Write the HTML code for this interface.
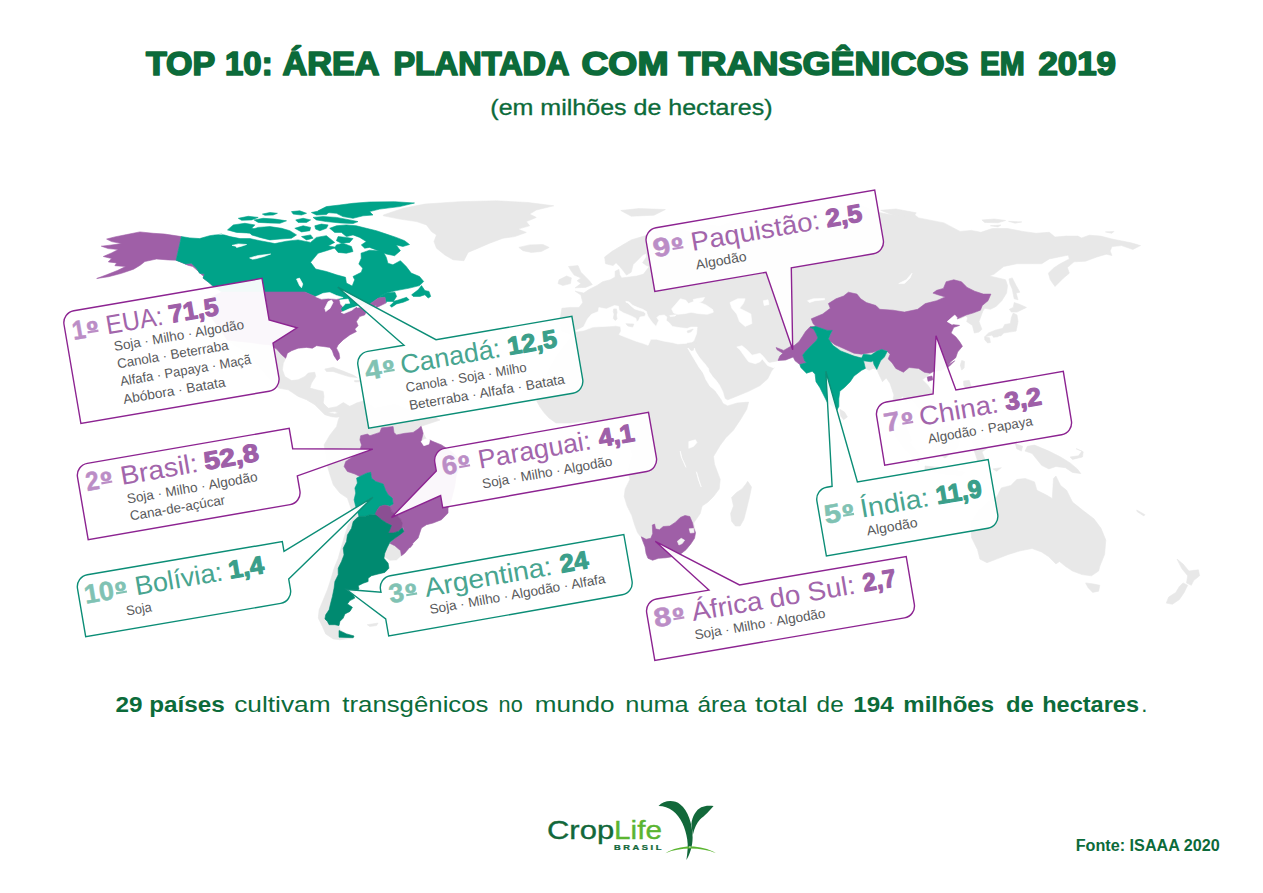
<!DOCTYPE html><html><head><meta charset="utf-8"><title>Top 10</title><style>html,body{margin:0;padding:0;background:#fff}svg{display:block}text{font-family:"Liberation Sans",sans-serif}</style></head><body>
<svg width="1263" height="893" viewBox="0 0 1263 893">
<rect width="1263" height="893" fill="#fff"/>
<g stroke-linejoin="round">
<path d="M383.3,215.0 L403.3,208.3 L424.9,204.1 L459.8,201.7 L496.4,200.8 L528.0,202.5 L553.7,205.8 L536.3,210.0 L529.6,214.1 L536.3,217.4 L526.3,221.6 L529.6,225.8 L518.0,229.1 L526.3,232.4 L514.7,236.6 L503.0,238.2 L489.7,243.2 L478.1,248.2 L468.1,252.4 L463.9,260.7 L453.1,259.8 L444.8,254.9 L436.5,248.2 L434.0,241.6 L436.5,234.9 L431.5,231.6 L426.5,224.9 L416.6,221.6 L399.9,219.1 L383.3,215.8Z" fill="#e8e8e8" stroke="#e8e8e8" stroke-width="0.6"/>
<path d="M518.8,247.4 L529.6,244.9 L542.9,244.5 L549.2,247.4 L541.3,251.5 L531.3,252.4 L523.0,250.7Z" fill="#e8e8e8" stroke="#e8e8e8" stroke-width="0.6"/>
<path d="M227.1,339.9 L240.0,341.5 L250.0,342.4 L260.0,344.0 L270.0,344.9 L276.6,349.0 L281.6,354.8 L285.7,358.2 L283.3,363.2 L282.4,369.8 L284.9,376.5 L291.6,380.6 L298.2,379.8 L304.9,376.5 L308.2,373.1 L314.8,372.3 L315.7,376.5 L311.5,383.1 L309.9,388.1 L316.5,389.8 L323.2,391.4 L324.0,396.4 L323.2,403.1 L325.7,409.7 L329.8,413.0 L334.8,413.9 L339.8,412.2 L343.1,409.7 L349.8,406.4 L356.4,404.7 L358.1,409.7 L349.8,412.2 L343.1,416.4 L336.5,417.2 L331.5,416.7 L324.8,414.7 L319.8,409.7 L314.8,404.7 L306.5,399.7 L298.2,396.4 L288.2,389.8 L278.3,388.1 L270.0,379.8 L260.0,368.1 L250.0,356.5 L240.0,348.2 L233.4,344.9Z" fill="#e8e8e8" stroke="#e8e8e8" stroke-width="0.6"/>
<path d="M324.8,369.0 L333.1,367.3 L343.1,371.1 L353.1,375.1 L357.2,377.6 L349.8,376.8 L341.4,374.3 L333.1,371.5 L326.5,371.5Z" fill="#e8e8e8" stroke="#e8e8e8" stroke-width="0.6"/>
<path d="M354.4,380.6 L360.6,380.5 L361.1,381.8 L354.8,381.9Z" fill="#e8e8e8" stroke="#e8e8e8" stroke-width="0.6"/>
<path d="M349.8,406.4 L356.4,403.1 L364.7,400.6 L375.0,408.0 L395.0,404.0 L410.0,410.0 L425.0,412.0 L440.0,420.0 L421.1,426.3 L423.1,433.3 L426.4,439.1 L433.0,441.6 L441.4,444.9 L451.3,451.5 L458.0,458.2 L459.6,466.5 L456.3,474.8 L454.7,486.5 L451.3,499.8 L448.0,508.1 L448.0,513.1 L441.4,519.7 L433.0,523.0 L426.4,524.7 L421.4,528.0 L419.7,533.0 L418.1,538.0 L413.1,543.0 L409.8,547.8 L413.0,544.1 L408.9,548.2 L404.7,553.2 L401.4,555.7 L399.7,556.9 L396.4,559.9 L389.8,560.2 L384.8,556.9 L383.9,558.2 L388.1,563.2 L388.9,568.2 L384.8,572.4 L378.1,574.0 L371.5,575.7 L368.1,578.2 L368.1,581.5 L363.2,583.2 L358.2,585.7 L359.0,589.0 L355.7,591.5 L353.2,594.8 L354.8,598.1 L349.9,600.6 L347.4,603.9 L352.4,607.3 L349.9,611.4 L344.9,613.9 L343.2,618.1 L339.9,621.4 L339.0,625.6 L339.9,629.7 L346.5,633.9 L354.0,636.0 L353.2,638.0 L339.9,639.7 L333.2,638.9 L325.7,633.9 L322.4,626.4 L318.3,618.1 L319.1,609.8 L323.3,599.8 L327.4,589.8 L330.7,579.8 L334.1,568.2 L338.2,558.2 L341.5,546.6 L344.9,534.9 L348.2,525.0 L354.0,516.7 L347.4,498.1 L339.9,493.1 L333.3,484.8 L330.0,474.8 L327.5,466.5 L325.8,454.9 L324.1,444.9 L330.0,434.9 L336.6,426.6 L338.3,420.0 L340.8,414.1 L334.9,411.6 L325.0,412.5 L318.3,406.7 L315.0,400.0 L320.0,400.0 L328.3,408.3 L336.6,406.7 L343.3,402.5Z" fill="#e8e8e8" stroke="#e8e8e8" stroke-width="0.6"/>
<path d="M367.3,624.7 L378.1,623.1 L376.5,625.6 L369.8,626.4Z" fill="#e8e8e8" stroke="#e8e8e8" stroke-width="0.6"/>
<path d="M560.9,331.1 L560.0,321.6 L560.9,314.0 L561.9,308.3 L570.4,307.4 L579.0,307.4 L582.8,302.6 L580.9,295.0 L575.2,291.2 L583.7,293.1 L589.4,289.3 L597.0,285.5 L602.7,281.7 L610.3,279.8 L615.1,277.0 L615.1,271.3 L618.9,269.4 L619.8,275.1 L621.7,277.9 L629.3,277.0 L636.9,276.0 L643.6,274.1 L646.4,270.3 L649.3,266.5 L646.4,265.6 L642.6,262.7 L646.4,257.0 L646.4,253.2 L642.6,255.1 L638.8,258.9 L633.1,264.6 L631.2,272.2 L626.5,275.1 L623.6,271.3 L619.8,266.5 L616.0,262.7 L613.2,265.6 L605.6,263.7 L604.6,257.0 L612.2,251.3 L621.7,245.6 L631.2,239.9 L640.7,237.1 L650.2,234.2 L660.0,228.0 L672.0,226.0 L690.0,232.0 L700.0,224.0 L720.0,226.0 L740.0,218.0 L770.0,222.0 L800.0,214.0 L830.0,208.0 L860.0,205.0 L880.7,212.8 L893.4,215.3 L913.6,214.1 L918.7,217.9 L944.0,222.9 L960.0,231.4 L971.4,230.4 L980.9,232.3 L992.3,228.5 L1007.5,228.5 L1022.7,231.4 L1036.0,233.3 L1049.3,232.3 L1055.0,237.1 L1066.4,236.1 L1077.8,236.1 L1081.6,238.0 L1089.2,235.2 L1100.6,236.1 L1112.0,239.0 L1121.5,240.9 L1131.0,242.8 L1140.5,245.6 L1132.9,249.4 L1121.5,245.6 L1112.0,246.6 L1110.1,250.9 L1112.0,255.5 L1106.3,254.2 L1096.8,257.0 L1085.4,261.2 L1074.0,261.8 L1067.4,267.5 L1069.3,273.2 L1063.6,277.9 L1058.8,282.7 L1055.0,286.5 L1050.3,279.8 L1048.4,273.2 L1053.1,268.4 L1058.8,264.6 L1069.3,258.9 L1068.3,255.1 L1058.8,257.0 L1049.3,258.9 L1041.7,263.7 L1032.2,263.7 L1017.0,263.7 L1003.7,266.5 L994.2,274.1 L989.5,276.0 L998.0,277.9 L1005.6,279.8 L1007.5,285.5 L1006.6,293.1 L1001.8,300.7 L996.1,306.4 L990.4,309.3 L984.7,308.3 L982.8,311.2 L979.0,321.6 L981.9,329.2 L979.0,332.1 L974.3,333.0 L972.4,325.4 L966.7,321.6 L967.6,317.8 L965.7,315.9 L960.0,318.8 L957.6,318.8 L953.8,315.9 L947.2,321.6 L951.9,324.5 L959.5,325.4 L953.8,327.3 L951.0,333.0 L955.7,336.8 L959.5,341.6 L962.4,346.3 L957.6,352.0 L955.7,357.7 L951.0,361.5 L948.1,365.3 L954.7,360.8 L949.0,366.5 L941.4,370.3 L933.8,371.3 L930.0,374.1 L927.2,376.0 L922.4,379.8 L928.1,385.5 L931.9,391.2 L936.0,400.0 L930.0,412.0 L920.0,410.0 L912.0,400.0 L906.0,404.0 L903.0,396.0 L898.0,400.0 L900.0,412.0 L906.0,425.0 L912.0,440.0 L909.0,443.0 L901.0,432.0 L895.0,415.0 L893.0,400.0 L893.9,395.0 L892.0,389.3 L890.1,383.6 L886.3,377.9 L882.5,381.7 L879.7,376.0 L876.8,369.4 L873.0,368.4 L869.2,370.3 L865.4,368.4 L861.6,370.3 L857.8,373.2 L854.0,376.0 L850.2,381.7 L844.5,387.4 L839.8,391.2 L838.8,398.8 L838.8,406.4 L836.9,410.2 L833.1,406.4 L827.4,402.6 L823.6,395.0 L819.8,387.4 L816.0,381.7 L815.1,374.1 L812.2,371.3 L806.5,373.2 L800.8,367.5 L799.9,364.6 L795.1,360.8 L793.2,357.0 L785.6,359.9 L778.0,360.4 L786.6,359.9 L779.0,360.3 L777.1,360.9 L767.6,362.8 L762.9,357.1 L760.0,354.2 L751.5,356.1 L747.7,351.4 L742.0,346.6 L737.2,347.6 L740.1,348.5 L744.8,355.2 L748.6,360.9 L755.3,362.8 L760.0,360.9 L761.9,358.0 L767.6,364.7 L774.3,367.5 L771.4,371.3 L767.6,378.9 L760.0,385.6 L748.6,391.3 L737.2,396.0 L727.7,399.8 L724.3,397.9 L719.2,385.6 L711.6,374.2 L703.0,362.8 L694.5,348.5 L691.6,341.9 L650.0,352.0 L585.0,347.0 L574.0,336.0 L566.6,333.0Z" fill="#e8e8e8" stroke="#e8e8e8" stroke-width="0.6"/>
<path d="M568.5,266.5 L578.0,265.6 L580.9,272.2 L584.7,276.0 L589.4,280.8 L592.3,284.6 L585.6,287.4 L575.2,287.8 L580.9,283.6 L577.1,280.8 L580.9,277.9 L574.2,275.1 L571.4,271.3Z" fill="#e8e8e8" stroke="#e8e8e8" stroke-width="0.6"/>
<path d="M559.0,279.8 L566.6,276.0 L571.4,277.9 L570.4,283.6 L562.8,285.5 L558.1,283.6Z" fill="#e8e8e8" stroke="#e8e8e8" stroke-width="0.6"/>
<path d="M620.8,210.5 L638.8,208.6 L665.4,209.5 L654.0,215.2 L631.2,216.2Z" fill="#e8e8e8" stroke="#e8e8e8" stroke-width="0.6"/>
<path d="M880.7,210.3 L895.9,209.0 L916.2,212.8 L913.6,216.6 L893.4,215.3Z" fill="#e8e8e8" stroke="#e8e8e8" stroke-width="0.6"/>
<path d="M981.9,220.0 L994.2,219.0 L1005.6,220.5 L998.0,222.8 L984.7,222.4Z" fill="#e8e8e8" stroke="#e8e8e8" stroke-width="0.6"/>
<path d="M1008.5,221.3 L1021.8,221.9 L1015.1,223.2Z" fill="#e8e8e8" stroke="#e8e8e8" stroke-width="0.6"/>
<path d="M990.4,225.7 L1000.9,225.1 L998.0,227.0Z" fill="#e8e8e8" stroke="#e8e8e8" stroke-width="0.6"/>
<path d="M1105.4,231.9 L1113.9,231.4 L1112.0,233.3Z" fill="#e8e8e8" stroke="#e8e8e8" stroke-width="0.6"/>
<path d="M1009.0,278.9 L1012.3,277.9 L1016.1,285.5 L1019.9,292.2 L1016.1,293.1 L1018.0,299.8 L1014.2,298.8 L1012.3,289.3 L1009.8,283.6Z" fill="#e8e8e8" stroke="#e8e8e8" stroke-width="0.6"/>
<path d="M1014.2,302.6 L1018.9,304.1 L1026.5,307.4 L1020.8,310.2 L1017.0,312.1 L1011.3,312.1 L1009.4,309.3 L1013.2,307.4Z" fill="#e8e8e8" stroke="#e8e8e8" stroke-width="0.6"/>
<path d="M1013.2,313.1 L1017.0,315.0 L1018.0,321.6 L1016.1,331.1 L1009.4,332.1 L1003.7,333.0 L1000.9,335.9 L991.4,335.3 L984.7,336.8 L988.5,333.0 L995.2,330.2 L1002.8,328.3 L1004.7,324.5 L1010.4,323.5 L1011.3,317.8Z" fill="#e8e8e8" stroke="#e8e8e8" stroke-width="0.6"/>
<path d="M984.7,336.8 L989.5,337.8 L990.4,342.5 L987.6,342.9 L984.7,339.7Z" fill="#e8e8e8" stroke="#e8e8e8" stroke-width="0.6"/>
<path d="M992.3,334.9 L999.9,334.5 L998.0,336.8 L993.3,337.2Z" fill="#e8e8e8" stroke="#e8e8e8" stroke-width="0.6"/>
<path d="M961.7,360.4 L964.5,361.4 L964.1,368.0 L961.7,369.9 L960.3,365.2Z" fill="#e8e8e8" stroke="#e8e8e8" stroke-width="0.6"/>
<path d="M963.6,380.9 L969.3,380.4 L971.2,387.0 L966.4,388.9 L963.6,385.1Z" fill="#e8e8e8" stroke="#e8e8e8" stroke-width="0.6"/>
<path d="M839.8,409.3 L844.5,412.1 L847.4,416.9 L843.6,419.7 L840.7,415.9Z" fill="#e8e8e8" stroke="#e8e8e8" stroke-width="0.6"/>
<path d="M576.1,329.5 L592.9,324.4 L619.8,323.1 L623.8,333.8 L648.1,340.6 L656.1,336.5 L691.8,339.2 L691.6,341.9 L687.8,348.5 L691.6,354.2 L699.2,367.5 L706.8,378.9 L714.4,390.3 L721.1,399.8 L723.0,403.6 L727.7,405.9 L737.2,403.0 L748.6,402.1 L746.7,409.3 L741.0,418.8 L733.4,430.2 L725.8,437.8 L720.1,445.4 L714.4,454.9 L713.5,456.6 L714.5,464.2 L717.3,471.8 L720.2,479.4 L719.2,488.9 L713.5,496.5 L707.8,502.2 L702.1,506.0 L700.2,513.6 L693.6,523.1 L695.5,532.6 L694.5,538.3 L690.7,544.0 L686.0,549.7 L681.2,553.5 L673.6,556.4 L666.0,557.7 L658.4,558.3 L652.7,560.2 L648.0,558.3 L646.1,553.5 L645.1,546.9 L643.2,542.1 L641.3,537.4 L637.5,532.6 L634.7,525.0 L631.8,515.5 L627.1,506.0 L624.2,496.5 L625.2,488.9 L629.9,479.4 L628.0,470.0 L632.0,455.0 L628.0,440.0 L630.0,428.0 L628.0,421.0 L615.0,419.0 L600.0,422.0 L585.0,421.0 L570.0,423.0 L556.0,423.0 L549.0,418.0 L544.0,412.6 L540.0,407.0 L537.0,401.5 L537.0,395.0 L540.0,386.0 L545.0,378.0 L550.0,367.0 L557.0,355.0 L567.0,342.0 L575.0,334.0 L580.0,327.0Z" fill="#e8e8e8" stroke="#e8e8e8" stroke-width="0.6"/>
<path d="M747.7,481.3 L751.5,487.0 L749.6,496.5 L746.8,507.9 L743.9,519.3 L740.1,526.0 L735.4,526.0 L731.6,521.2 L730.6,513.6 L733.5,506.0 L731.6,497.5 L736.3,492.7 L742.0,488.9 L745.8,484.2Z" fill="#e8e8e8" stroke="#e8e8e8" stroke-width="0.6"/>
<path d="M996.5,497.4 L1001.3,487.9 L1010.8,485.5 L1016.7,479.6 L1025.0,478.4 L1034.5,481.9 L1036.9,490.3 L1046.4,495.0 L1052.3,498.6 L1053.5,478.4 L1055.9,476.0 L1060.6,485.5 L1066.6,490.3 L1072.5,502.1 L1084.4,511.6 L1093.9,518.8 L1101.0,528.3 L1105.8,540.1 L1104.6,554.4 L1099.8,566.3 L1098.6,571.0 L1091.5,575.8 L1082.0,574.6 L1072.5,571.0 L1065.4,566.3 L1059.5,561.5 L1055.9,563.9 L1048.8,556.8 L1041.6,552.0 L1032.1,548.5 L1020.3,550.8 L1008.4,554.4 L996.5,559.1 L987.0,562.7 L979.9,559.1 L977.5,549.6 L971.6,537.8 L970.4,523.5 L977.5,511.6 L987.0,502.1Z" fill="#e8e8e8" stroke="#e8e8e8" stroke-width="0.6"/>
<path d="M1085.6,582.9 L1093.9,584.1 L1099.8,585.3 L1098.6,591.2 L1092.7,592.4 L1088.0,587.6Z" fill="#e8e8e8" stroke="#e8e8e8" stroke-width="0.6"/>
<path d="M1027.4,446.3 L1034.5,445.1 L1048.8,451.1 L1060.6,457.0 L1070.1,462.9 L1077.3,468.9 L1080.8,473.6 L1072.5,472.4 L1065.4,467.7 L1055.9,466.5 L1048.8,468.9 L1041.6,465.3 L1036.9,459.4 L1032.1,453.4 L1025.0,451.1Z" fill="#e8e8e8" stroke="#e8e8e8" stroke-width="0.6"/>
<path d="M1070.1,457.0 L1078.5,455.8 L1082.0,451.1 L1076.1,448.7 L1083.2,451.8 L1082.5,457.0 L1072.5,459.4Z" fill="#e8e8e8" stroke="#e8e8e8" stroke-width="0.6"/>
<path d="M1177.0,559.1 L1183.0,563.9 L1188.9,571.0 L1198.4,569.8 L1199.6,575.8 L1193.7,580.5 L1191.3,585.3 L1186.5,582.9 L1187.7,575.8 L1181.8,568.6Z" fill="#e8e8e8" stroke="#e8e8e8" stroke-width="0.6"/>
<path d="M1183.0,582.9 L1187.7,585.3 L1184.2,592.4 L1179.4,599.5 L1172.3,604.3 L1166.3,603.1 L1168.7,597.1 L1175.8,592.4 L1179.4,586.5Z" fill="#e8e8e8" stroke="#e8e8e8" stroke-width="0.6"/>
<path d="M1136.7,510.0 L1145.0,514.7 L1143.8,515.9 L1137.1,511.6Z" fill="#e8e8e8" stroke="#e8e8e8" stroke-width="0.6"/>
<path d="M1015.5,443.9 L1022.6,446.3 L1021.4,451.1 L1016.7,448.7Z" fill="#e8e8e8" stroke="#e8e8e8" stroke-width="0.6"/>
<path d="M992.9,468.9 L1001.3,467.7 L996.5,471.3Z" fill="#e8e8e8" stroke="#e8e8e8" stroke-width="0.6"/>
<path d="M893.0,425.0 L900.0,428.0 L912.0,445.0 L922.0,458.0 L918.0,462.0 L905.0,450.0 L895.0,436.0Z" fill="#e8e8e8" stroke="#e8e8e8" stroke-width="0.6"/>
<path d="M935.0,430.0 L950.0,425.0 L962.0,432.0 L958.0,448.0 L945.0,458.0 L934.0,452.0 L930.0,440.0Z" fill="#e8e8e8" stroke="#e8e8e8" stroke-width="0.6"/>
<path d="M925.0,466.0 L945.0,468.0 L965.0,472.0 L962.0,476.0 L940.0,474.0 L925.0,470.0Z" fill="#e8e8e8" stroke="#e8e8e8" stroke-width="0.6"/>
<path d="M972.0,440.0 L985.0,438.0 L990.0,446.0 L982.0,452.0 L986.0,462.0 L978.0,462.0 L974.0,450.0Z" fill="#e8e8e8" stroke="#e8e8e8" stroke-width="0.6"/>
<path d="M730.0,302.6 L737.6,298.8 L745.2,298.8 L743.3,303.6 L739.5,308.3 L747.1,312.1 L750.9,314.0 L751.9,323.5 L745.2,326.4 L739.5,321.6 L736.7,314.0 L731.9,308.3Z" fill="#ffffff" stroke="#ffffff" stroke-width="0.6"/>
<path d="M763.3,300.7 L768.0,299.8 L769.0,304.5 L764.2,305.5Z" fill="#ffffff" stroke="#ffffff" stroke-width="0.6"/>
<path d="M898.7,283.6 L906.3,279.8 L912.0,273.2 L910.1,277.9 L904.4,283.6Z" fill="#ffffff" stroke="#ffffff" stroke-width="0.6"/>
<path d="M807.5,300.7 L813.2,298.8 L824.6,298.4 L824.6,299.8 L815.1,300.7 L809.4,302.6Z" fill="#ffffff" stroke="#ffffff" stroke-width="0.6"/>
<path d="M688.8,441.6 L695.4,439.7 L696.9,442.6 L693.5,446.4 L688.8,448.3Z" fill="#ffffff" stroke="#ffffff" stroke-width="0.6"/>
<path d="M680.2,451.1 L682.1,458.7 L685.9,467.3 L684.0,462.5 L681.2,456.8Z" fill="#ffffff" stroke="#ffffff" stroke-width="0.6"/>
<path d="M696.4,471.8 L698.3,479.4 L701.2,487.0 L699.3,481.3 L697.4,474.7Z" fill="#ffffff" stroke="#ffffff" stroke-width="0.6"/>
<path d="M576.1,330.5 L583.5,327.1 L587.5,319.0 L591.5,314.3 L598.3,311.6 L598.9,307.6 L606.3,308.9 L614.4,305.6 L618.5,306.2 L619.1,310.3 L623.8,313.0 L630.6,315.7 L636.0,318.4 L636.6,321.7 L638.6,320.4 L640.0,317.0 L644.7,316.3 L646.0,313.7 L647.4,315.3 L650.8,320.4 L652.8,323.1 L656.1,326.4 L657.5,323.1 L658.8,320.4 L656.8,317.7 L658.8,315.7 L664.2,315.0 L666.9,317.0 L666.2,320.4 L669.6,323.1 L672.3,326.4 L680.4,327.8 L687.1,328.5 L691.1,327.1 L697.2,327.1 L696.5,333.8 L693.8,340.6 L691.8,342.6 L687.1,343.3 L677.7,343.9 L672.3,342.6 L664.2,341.2 L656.1,339.2 L650.8,339.2 L648.1,345.3 L642.7,343.3 L636.0,341.2 L629.2,338.6 L623.8,336.5 L619.1,334.5 L621.1,331.1 L620.5,326.4 L615.8,325.8 L603.7,326.4 L592.9,327.1 L583.5,330.5 L576.1,331.4Z" fill="#ffffff" stroke="#ffffff" stroke-width="0.6"/>
<path d="M646.0,313.7 L643.4,311.6 L638.6,310.3 L634.6,308.9 L630.6,305.6 L627.9,302.9 L625.9,302.2 L625.9,301.3 L629.2,301.9 L632.6,305.3 L637.3,307.3 L642.7,309.3 L646.5,311.6 L647.4,315.3Z" fill="#ffffff" stroke="#ffffff" stroke-width="0.6"/>
<path d="M671.6,308.9 L676.3,303.6 L680.4,298.8 L685.8,300.2 L688.4,303.6 L693.8,301.5 L693.2,299.5 L699.2,298.2 L704.6,297.5 L702.6,300.9 L699.2,302.2 L705.9,304.9 L712.7,309.6 L713.3,312.3 L707.3,314.3 L699.2,313.7 L691.1,312.3 L684.4,313.7 L677.7,314.3 L673.6,313.0Z" fill="#ffffff" stroke="#ffffff" stroke-width="0.6"/>
<path d="M669.6,315.7 L676.3,314.7 L675.0,316.1 L670.3,316.6Z" fill="#ffffff" stroke="#ffffff" stroke-width="0.6"/>
<path d="M613.7,308.9 L616.4,308.9 L617.1,312.3 L616.4,315.0 L617.1,319.0 L615.1,320.4 L613.3,318.4 L614.1,314.3 L613.3,311.6Z" fill="#e8e8e8" stroke="#e8e8e8" stroke-width="0.6"/>
<path d="M625.9,323.7 L633.9,324.1 L632.6,327.1 L627.9,326.0Z" fill="#e8e8e8" stroke="#e8e8e8" stroke-width="0.6"/>
<path d="M687.1,331.1 L693.2,329.1 L691.1,331.8 L687.8,332.8Z" fill="#e8e8e8" stroke="#e8e8e8" stroke-width="0.6"/>
<path d="M687.1,343.3 L696.5,342.2 L694.6,347.3 L693.8,350.5 L691.8,351.6 L690.2,350.0 L688.2,347.3Z" fill="#e8e8e8" stroke="#e8e8e8" stroke-width="0.6"/>
<path d="M687.8,348.0 L691.1,351.3 L693.8,350.7 L694.5,348.0 L695.2,352.0 L699.2,357.4 L704.6,363.5 L708.6,368.8 L709.3,374.2 L715.4,379.6 L719.4,385.0 L722.8,391.7 L724.8,399.1 L720.8,395.8 L715.4,390.4 L710.0,386.3 L705.9,379.6 L703.3,372.9 L699.2,367.5 L695.2,360.8 L691.1,354.0Z" fill="#ffffff" stroke="#ffffff" stroke-width="0.6"/>
<path d="M736.8,347.0 L742.0,345.7 L747.7,350.4 L752.0,355.2 L760.0,353.3 L763.4,356.5 L768.0,362.2 L774.8,366.6 L773.7,367.9 L767.6,365.6 L762.3,359.1 L760.0,361.8 L755.3,363.7 L748.6,361.8 L744.4,356.1 L739.7,349.5Z" fill="#ffffff" stroke="#ffffff" stroke-width="0.6"/>
<path d="M181.4,236.6 L164.8,234.1 L153.2,233.3 L139.9,231.9 L126.6,234.6 L114.9,236.9 L106.6,239.1 L111.6,241.6 L121.6,243.6 L110.0,245.2 L101.3,246.2 L108.3,248.6 L118.3,249.5 L111.6,252.9 L103.3,256.5 L111.6,258.5 L108.3,261.9 L116.6,262.9 L114.9,265.7 L125.7,266.5 L117.4,270.5 L106.6,274.8 L96.7,278.5 L108.6,276.7 L121.6,273.3 L133.6,269.2 L140.2,265.2 L144.9,261.5 L156.5,259.0 L168.1,259.9 L176.5,260.2 L185.6,264.0 L191.4,263.2 L196.4,268.2 L199.7,273.2 L204.7,274.0 L203.1,278.1 L209.7,283.1 L212.2,285.6 L210.0,281.8 L206.1,277.8 L201.7,274.8 L197.7,270.7 L192.8,266.5 L187.8,265.2 L181.1,261.9 L176.1,260.2Z" fill="#9f5fa7" stroke="#9f5fa7" stroke-width="0.6"/>
<path d="M181.4,236.6 L189.8,237.9 L199.7,238.6 L209.7,235.7 L221.4,234.1 L221.3,234.1 L230.0,236.6 L240.0,238.6 L249.9,238.6 L259.9,240.7 L274.9,243.6 L286.5,241.2 L298.1,239.9 L310.6,242.4 L316.4,237.4 L326.4,235.7 L334.7,242.4 L328.1,245.7 L336.4,247.4 L326.4,250.7 L318.1,253.2 L310.6,262.3 L315.6,269.0 L326.4,271.5 L336.4,274.8 L345.5,277.3 L346.4,283.1 L352.2,286.1 L354.7,279.8 L353.0,276.5 L361.3,272.3 L362.7,268.2 L358.8,264.0 L361.3,258.2 L361.0,253.2 L369.6,250.2 L382.9,251.2 L386.3,257.4 L387.9,263.2 L392.9,264.8 L400.4,260.7 L406.2,266.5 L411.2,273.1 L419.5,276.5 L423.7,281.5 L419.5,285.6 L409.5,288.1 L396.2,290.6 L386.3,293.1 L379.6,296.4 L380.0,296.4 L386.6,293.1 L394.9,292.3 L396.6,296.4 L393.3,301.4 L386.6,301.4 L385.8,303.1 L385.0,297.3 L378.3,298.1 L370.0,303.9 L366.4,305.8 L359.7,307.0 L356.4,306.6 L351.4,309.6 L343.1,312.9 L340.6,309.1 L343.1,305.8 L339.8,300.0 L336.5,297.5 L329.8,298.3 L321.5,299.1 L315.7,296.7 L304.9,292.0 L265.0,292.0 L221.7,292.0 L212.2,285.6 L209.7,283.1 L203.1,278.1 L204.7,274.0 L199.7,273.2 L196.4,268.2 L191.4,263.2 L185.6,264.0 L176.1,260.2Z" fill="#00a389" stroke="#00a389" stroke-width="0.6"/>
<path d="M393.3,301.4 L399.1,299.8 L406.6,297.3 L409.1,299.8 L403.3,302.2 L396.6,303.9 L391.6,307.2 L390.0,305.6 L393.3,302.7Z" fill="#00a389" stroke="#00a389" stroke-width="0.6"/>
<path d="M411.6,294.8 L418.2,289.8 L421.5,285.6 L424.9,290.6 L429.0,291.4 L430.7,296.4 L428.2,298.1 L424.9,294.8 L419.9,296.4 L413.2,296.4Z" fill="#00a389" stroke="#00a389" stroke-width="0.6"/>
<path d="M227.5,229.9 L233.3,224.9 L244.9,223.3 L254.9,224.9 L251.6,228.3 L261.6,230.7 L258.2,234.1 L246.6,232.9 L236.6,232.4Z" fill="#00a389" stroke="#00a389" stroke-width="0.6"/>
<path d="M248.3,230.7 L258.2,227.4 L269.9,226.6 L281.5,228.3 L289.8,230.7 L296.5,234.9 L291.5,238.2 L279.9,239.1 L269.9,239.9 L259.9,237.4 L251.6,234.9Z" fill="#00a389" stroke="#00a389" stroke-width="0.6"/>
<path d="M238.3,218.3 L248.3,216.3 L258.2,217.4 L251.6,219.9 L241.6,220.3Z" fill="#00a389" stroke="#00a389" stroke-width="0.6"/>
<path d="M254.1,219.9 L263.2,218.3 L274.9,219.1 L286.5,220.8 L279.9,223.3 L268.2,222.9 L258.2,222.4Z" fill="#00a389" stroke="#00a389" stroke-width="0.6"/>
<path d="M262.4,214.1 L269.9,212.5 L277.4,213.3 L273.2,215.0 L264.9,215.3Z" fill="#00a389" stroke="#00a389" stroke-width="0.6"/>
<path d="M291.5,211.6 L299.8,210.8 L306.5,213.3 L301.5,215.0 L293.2,214.1Z" fill="#00a389" stroke="#00a389" stroke-width="0.6"/>
<path d="M295.7,219.9 L303.1,218.3 L310.6,219.9 L306.5,222.4 L298.1,222.4Z" fill="#00a389" stroke="#00a389" stroke-width="0.6"/>
<path d="M294.8,228.3 L303.1,225.8 L310.6,227.4 L309.8,230.7 L301.5,231.9Z" fill="#00a389" stroke="#00a389" stroke-width="0.6"/>
<path d="M301.5,236.6 L310.6,234.9 L313.1,238.2 L306.5,239.9Z" fill="#00a389" stroke="#00a389" stroke-width="0.6"/>
<path d="M311.4,212.5 L319.8,210.8 L329.7,211.6 L326.4,214.6 L316.4,215.0Z" fill="#00a389" stroke="#00a389" stroke-width="0.6"/>
<path d="M313.1,217.4 L323.1,216.6 L336.4,217.4 L349.7,219.9 L358.0,221.6 L353.0,223.6 L339.7,222.9 L326.4,221.6 L316.4,219.9Z" fill="#00a389" stroke="#00a389" stroke-width="0.6"/>
<path d="M314.8,225.8 L321.4,224.1 L328.1,224.9 L326.4,228.3 L319.8,230.7 L315.6,229.1Z" fill="#00a389" stroke="#00a389" stroke-width="0.6"/>
<path d="M318.1,210.8 L326.4,206.6 L339.7,205.0 L353.0,203.3 L369.6,202.0 L394.6,201.7 L414.5,203.0 L399.6,206.6 L379.6,209.1 L369.6,211.6 L373.0,215.0 L363.0,215.8 L353.0,218.3 L343.0,216.6 L336.4,213.3 L326.4,212.5Z" fill="#00a389" stroke="#00a389" stroke-width="0.6"/>
<path d="M329.7,228.3 L336.4,225.8 L346.4,224.9 L356.3,225.8 L366.3,228.3 L376.3,230.7 L386.3,234.1 L396.2,237.4 L404.6,240.7 L409.5,244.5 L402.9,246.5 L396.2,244.9 L400.4,250.7 L394.6,255.7 L386.3,254.0 L376.3,249.9 L369.6,247.4 L364.7,248.2 L361.3,244.9 L366.3,241.6 L359.7,237.4 L353.0,234.9 L346.4,236.6 L341.4,232.4 L334.7,232.4Z" fill="#00a389" stroke="#00a389" stroke-width="0.6"/>
<path d="M336.4,244.9 L343.0,243.2 L351.4,246.5 L353.0,251.5 L346.4,253.2 L338.1,252.4 L334.7,248.2Z" fill="#00a389" stroke="#00a389" stroke-width="0.6"/>
<path d="M338.1,236.6 L346.4,237.4 L353.0,238.6 L349.7,242.4 L341.4,243.2 L336.4,240.7Z" fill="#00a389" stroke="#00a389" stroke-width="0.6"/>
<path d="M221.7,292.0 L265.0,292.0 L304.9,292.0 L315.7,296.7 L321.5,299.1 L329.8,298.3 L336.5,297.5 L339.8,300.0 L343.1,305.8 L340.6,309.1 L343.1,312.9 L351.4,309.6 L356.4,306.6 L359.7,307.0 L366.4,305.8 L370.0,303.9 L378.3,298.1 L385.0,297.3 L385.8,303.1 L378.3,306.7 L375.0,308.1 L376.4,305.0 L372.2,307.5 L366.4,311.6 L364.7,314.9 L359.7,316.6 L356.4,321.6 L358.1,325.7 L354.8,329.1 L356.4,331.6 L349.8,334.9 L343.1,339.9 L338.1,344.9 L336.5,348.2 L339.0,353.2 L339.8,358.2 L337.3,360.7 L334.0,355.7 L332.3,350.7 L329.8,347.4 L323.2,346.5 L316.5,345.7 L312.4,348.2 L306.5,347.4 L298.2,348.2 L291.6,350.7 L287.4,353.2 L285.7,358.2 L281.6,354.8 L276.6,349.0 L270.0,344.9 L260.0,344.0 L250.0,342.4 L240.0,341.5 L227.1,339.9 L221.7,331.6 L211.8,318.3 L207.9,306.6 L211.8,296.7Z" fill="#9f5fa7" stroke="#9f5fa7" stroke-width="0.6"/>
<path d="M360.7,435.7 L367.4,434.1 L369.9,435.7 L379.8,432.4 L381.5,427.9 L393.1,426.6 L394.0,432.4 L396.5,434.9 L404.8,433.3 L413.1,432.4 L418.1,429.1 L421.1,426.3 L423.1,433.3 L421.1,441.6 L423.9,445.7 L428.9,444.1 L429.7,439.9 L433.0,441.6 L441.4,444.9 L451.3,451.5 L458.0,458.2 L459.6,466.5 L456.3,474.8 L454.7,486.5 L451.3,499.8 L448.0,508.1 L448.0,513.1 L441.4,519.7 L433.0,523.0 L426.4,524.7 L421.4,528.0 L419.7,533.0 L418.1,538.0 L413.1,543.0 L409.8,547.8 L413.0,544.1 L408.9,548.2 L404.7,553.2 L401.4,555.7 L400.6,550.7 L394.8,545.7 L389.8,543.3 L394.8,538.3 L399.7,534.9 L403.9,531.6 L403.1,527.5 L399.7,530.8 L398.9,525.0 L396.4,520.0 L391.4,517.5 L402.3,523.0 L400.6,518.9 L396.5,514.7 L391.5,511.4 L389.8,506.4 L393.1,503.9 L392.3,498.1 L388.1,494.8 L385.7,490.6 L383.2,484.0 L375.7,481.5 L371.5,478.1 L370.7,472.3 L366.5,473.2 L359.9,476.5 L354.9,474.0 L347.4,471.5 L344.1,466.5 L345.7,461.5 L353.2,456.5 L359.9,449.9 L361.5,444.9 L359.9,439.9Z" fill="#9f5fa7" stroke="#9f5fa7" stroke-width="0.6"/>
<path d="M421.1,441.6 L423.9,445.7 L428.9,444.1 L429.7,439.9 L426.4,438.7 L423.9,439.6Z" fill="#ffffff" stroke="#ffffff" stroke-width="0.6"/>
<path d="M359.9,476.5 L366.5,473.2 L370.7,472.3 L371.5,478.1 L375.7,481.5 L383.2,484.0 L385.7,490.6 L388.1,494.8 L392.3,498.1 L393.1,503.9 L389.8,506.1 L384.8,505.1 L379.8,506.4 L377.3,509.7 L375.7,514.7 L369.9,514.7 L364.9,516.4 L359.0,516.4 L357.4,511.4 L355.7,506.4 L354.1,499.8 L355.7,493.1 L354.9,488.1 L357.4,483.1 L356.6,478.1Z" fill="#00a389" stroke="#00a389" stroke-width="0.6"/>
<path d="M377.3,509.7 L379.8,506.4 L384.8,505.1 L389.8,506.4 L391.5,511.4 L396.5,514.7 L400.6,518.9 L402.3,523.0 L401.4,528.0 L398.1,531.4 L393.1,533.0 L388.1,533.0 L389.8,528.9 L391.5,525.5 L386.5,523.0 L381.5,519.7 L376.5,516.4 L375.2,513.9Z" fill="#8b4f93" stroke="#8b4f93" stroke-width="0.6"/>
<path d="M359.0,516.4 L364.9,516.4 L369.9,514.7 L375.7,515.1 L381.5,519.7 L386.5,523.0 L391.5,525.5 L389.0,531.4 L388.1,533.0 L393.1,533.0 L398.1,531.4 L402.3,528.0 L403.9,531.6 L399.7,534.9 L394.8,538.3 L389.8,542.4 L387.3,547.4 L384.8,553.2 L383.9,558.2 L388.1,563.2 L388.9,568.2 L384.8,572.4 L378.1,574.0 L371.5,575.7 L368.1,578.2 L368.1,581.5 L363.2,583.2 L358.2,585.7 L359.0,589.0 L355.7,591.5 L353.2,594.8 L354.8,598.1 L349.9,600.6 L347.4,603.9 L352.4,607.3 L349.9,611.4 L344.9,613.9 L343.2,618.1 L339.9,621.4 L339.0,625.6 L334.9,624.7 L329.1,624.7 L327.4,621.4 L324.9,618.9 L325.7,614.8 L329.1,609.8 L330.7,603.1 L332.4,596.5 L334.1,588.1 L334.9,581.5 L338.2,574.8 L338.2,568.2 L341.5,561.5 L344.0,554.9 L343.2,548.2 L346.5,541.6 L347.4,534.9 L351.5,528.3 L353.2,521.6 L356.5,518.3Z" fill="#008a70" stroke="#008a70" stroke-width="0.6"/>
<path d="M339.0,630.5 L346.5,633.9 L354.0,636.0 L353.2,637.7 L339.0,637.2Z" fill="#008a70" stroke="#008a70" stroke-width="0.6"/>
<path d="M641.3,536.8 L646.1,539.3 L650.8,538.3 L652.7,533.6 L652.3,525.0 L654.6,524.1 L655.6,528.8 L659.4,529.8 L663.2,526.5 L669.8,526.0 L675.5,522.2 L680.3,517.4 L685.0,515.5 L689.8,516.5 L692.6,523.1 L693.6,527.9 L695.5,532.6 L694.5,538.3 L690.7,544.0 L686.0,549.7 L681.2,553.5 L673.6,556.4 L666.0,557.7 L658.4,558.3 L652.7,560.2 L648.0,558.3 L646.1,553.5 L645.1,546.9 L643.2,542.1Z" fill="#9f5fa7" stroke="#9f5fa7" stroke-width="0.6"/>
<path d="M677.4,541.2 L681.2,538.3 L684.6,540.2 L682.2,543.6 L678.9,545.0Z" fill="#f3f3f3" stroke="#f3f3f3" stroke-width="0.6"/>
<path d="M689.2,528.8 L693.6,528.4 L694.1,532.6 L690.3,533.0Z" fill="#f3f3f3" stroke="#f3f3f3" stroke-width="0.6"/>
<path d="M811.3,318.8 L822.7,314.0 L830.3,308.3 L828.4,303.6 L836.0,298.8 L843.6,296.0 L848.4,292.2 L856.9,294.1 L860.7,298.8 L866.4,302.6 L875.9,305.5 L879.7,309.3 L893.0,310.2 L904.4,312.1 L917.7,309.3 L925.3,303.6 L936.7,300.7 L945.3,296.9 L938.6,295.0 L932.9,293.1 L936.7,290.3 L943.4,288.4 L946.2,281.7 L953.8,279.8 L961.4,281.7 L967.1,287.4 L974.7,291.2 L983.3,294.1 L990.9,294.1 L988.0,300.7 L982.3,305.5 L980.4,310.2 L972.8,313.1 L966.2,315.0 L957.6,318.8 L953.8,315.9 L947.2,321.6 L951.9,324.5 L959.5,325.4 L953.8,327.3 L951.0,333.0 L955.7,336.8 L959.5,341.6 L962.4,346.3 L957.6,352.0 L955.7,357.7 L951.0,361.5 L948.1,365.3 L954.7,360.8 L949.0,366.5 L941.4,370.3 L933.8,371.3 L930.0,373.2 L924.3,372.2 L918.6,368.4 L909.1,367.5 L903.4,372.2 L895.8,368.4 L892.0,362.7 L888.2,358.9 L890.1,354.2 L886.3,350.4 L881.6,349.4 L873.0,352.3 L861.6,354.2 L854.0,353.2 L843.6,348.5 L835.0,344.7 L828.4,339.9 L829.3,337.1 L832.2,330.4 L827.4,330.4 L821.7,328.5 L816.0,326.6 L813.2,323.8 L811.3,319.0Z" fill="#9f5fa7" stroke="#9f5fa7" stroke-width="0.6"/>
<path d="M927.2,377.0 L931.9,376.0 L932.9,379.8 L928.1,381.3Z" fill="#9f5fa7" stroke="#9f5fa7" stroke-width="0.6"/>
<path d="M776.1,347.5 L783.7,350.4 L790.4,346.6 L794.2,345.6 L798.9,341.8 L802.7,336.1 L805.6,331.4 L810.3,326.6 L816.0,326.6 L813.2,328.5 L816.0,333.3 L817.9,338.0 L816.0,340.9 L811.3,345.6 L806.5,350.4 L802.7,355.1 L804.6,360.8 L806.5,362.7 L799.9,364.6 L795.1,360.8 L793.2,357.0 L785.6,359.9 L778.0,360.4 L779.9,356.1 L782.8,353.2 L777.1,349.8Z" fill="#9f5fa7" stroke="#9f5fa7" stroke-width="0.6"/>
<path d="M810.3,327.6 L816.0,326.6 L821.7,328.5 L827.4,330.4 L832.2,330.4 L830.3,334.2 L828.4,339.0 L833.1,345.6 L840.7,350.9 L854.0,356.1 L861.6,358.0 L863.5,354.2 L871.1,355.1 L876.8,351.3 L881.6,349.4 L887.3,351.3 L884.4,357.0 L880.6,360.8 L876.8,369.4 L874.0,364.6 L873.0,360.8 L871.1,361.8 L863.5,360.8 L865.4,368.4 L861.6,370.3 L857.8,373.2 L854.0,376.0 L850.2,381.7 L844.5,387.4 L839.8,391.2 L838.8,398.8 L838.8,406.4 L836.9,410.2 L833.1,406.4 L827.4,402.6 L823.6,395.0 L819.8,387.4 L816.0,381.7 L815.1,374.1 L812.2,371.3 L806.5,373.2 L800.8,367.5 L799.9,364.6 L806.5,362.7 L804.6,360.8 L802.7,355.1 L806.5,350.4 L811.3,345.6 L816.0,340.9 L817.9,338.0 L816.0,333.3 L813.2,328.5Z" fill="#00a389" stroke="#00a389" stroke-width="0.6"/>
<path d="M315.7,296.7 L323.2,293.3 L329.8,292.5 L336.5,295.5 L343.1,297.5 L336.5,299.1 L328.1,298.3 L321.5,299.1Z" fill="#ffffff" stroke="#ffffff" stroke-width="0.6"/>
<path d="M328.1,301.6 L331.5,300.0 L333.1,302.5 L330.1,308.3 L325.7,311.6 L324.8,308.3Z" fill="#ffffff" stroke="#ffffff" stroke-width="0.6"/>
<path d="M339.8,300.0 L348.1,299.1 L349.8,303.3 L345.6,303.6 L342.8,306.6 L340.6,304.1Z" fill="#ffffff" stroke="#ffffff" stroke-width="0.6"/>
<path d="M341.1,312.4 L349.8,308.6 L356.4,306.6 L351.8,310.3 L343.9,313.6Z" fill="#ffffff" stroke="#ffffff" stroke-width="0.6"/>
<path d="M356.4,306.3 L364.7,304.6 L363.1,306.6 L357.2,307.6Z" fill="#ffffff" stroke="#ffffff" stroke-width="0.6"/>
<path d="M232.0,245.4 L238.3,243.9 L246.6,244.5 L241.6,246.2 L236.6,247.5 L235.8,246.2Z" fill="#ffffff" stroke="#ffffff" stroke-width="0.6"/>
<path d="M249.6,257.9 L258.2,255.5 L270.7,254.0 L264.1,256.5 L255.7,258.8 L252.4,259.2Z" fill="#ffffff" stroke="#ffffff" stroke-width="0.6"/>
<path d="M296.5,279.0 L299.5,278.1 L302.8,284.0 L301.5,287.8 L299.5,285.6Z" fill="#ffffff" stroke="#ffffff" stroke-width="0.6"/>
<path d="M947.2,321.6 L954.8,315.0 L957.2,317.8 L952.3,324.5Z" fill="#ffffff" stroke="#ffffff" stroke-width="0.6"/>
</g>
<path d="M73.8,310.7 L262.0,278.4 L269.1,319.9 L297.0,327.8 L273.0,343.1 L278.9,377.4 A12,12 0 0 1 269.1,391.2 L80.9,423.5 L64.0,324.5 A12,12 0 0 1 73.8,310.7 Z" fill="#fff" fill-opacity="0.95" stroke="#8c2391" stroke-width="1.4" stroke-linejoin="miter"/>
<text transform="translate(73.7,340.1) rotate(-9.73)" font-size="26.5" font-weight="bold" fill="#bb8dc6" text-anchor="start" textLength="13.2" lengthAdjust="spacingAndGlyphs" stroke="#bb8dc6" stroke-width="0.5">1</text>
<g transform="translate(73.7,340.1) rotate(-9.73)"><text x="15.0" y="2.6" font-size="26.5" font-weight="bold" fill="#bb8dc6" textLength="11.0" lengthAdjust="spacingAndGlyphs" stroke="#bb8dc6" stroke-width="0.7">º</text><rect x="15.0" y="-6.3" width="11.0" height="2.2" fill="#bb8dc6"/></g>
<text transform="translate(107.6,334.3) rotate(-9.73)" font-size="26.5" font-weight="normal" fill="#a265ab" text-anchor="start" textLength="57.4" lengthAdjust="spacingAndGlyphs">EUA:</text>
<text transform="translate(170.3,323.0) rotate(-9.73)" font-size="25.0" font-weight="bold" fill="#9e5fa8" text-anchor="start" textLength="50.1" lengthAdjust="spacingAndGlyphs" stroke="#9e5fa8" stroke-width="1.2" stroke-linejoin="round">71,5</text>
<text transform="translate(114.8,351.0) rotate(-9.73)" font-size="13.5" font-weight="normal" fill="#58595b" text-anchor="start" textLength="131.6" lengthAdjust="spacingAndGlyphs">Soja · Milho · Algodão</text>
<text transform="translate(117.9,368.5) rotate(-9.73)" font-size="13.5" font-weight="normal" fill="#58595b" text-anchor="start" textLength="112.8" lengthAdjust="spacingAndGlyphs">Canola · Beterraba</text>
<text transform="translate(121.0,386.0) rotate(-9.73)" font-size="13.5" font-weight="normal" fill="#58595b" text-anchor="start" textLength="132.6" lengthAdjust="spacingAndGlyphs">Alfafa · Papaya · Maçã</text>
<text transform="translate(124.1,403.9) rotate(-9.73)" font-size="13.5" font-weight="normal" fill="#58595b" text-anchor="start" textLength="103.4" lengthAdjust="spacingAndGlyphs">Abóbora · Batata</text>
<path d="M367.7,351.4 L404.0,345.2 L337.8,287.2 L436.0,339.7 L571.9,316.4 L582.7,379.4 A12,12 0 0 1 572.9,393.2 L368.7,428.2 L357.9,365.2 A12,12 0 0 1 367.7,351.4 Z" fill="#fff" fill-opacity="0.95" stroke="#0b8d76" stroke-width="1.4" stroke-linejoin="miter"/>
<text transform="translate(366.6,380.0) rotate(-9.72)" font-size="26.5" font-weight="bold" fill="#80c2b3" text-anchor="start" textLength="16.5" lengthAdjust="spacingAndGlyphs" stroke="#80c2b3" stroke-width="0.5">4</text>
<g transform="translate(366.6,380.0) rotate(-9.72)"><text x="18.3" y="2.6" font-size="26.5" font-weight="bold" fill="#80c2b3" textLength="11.0" lengthAdjust="spacingAndGlyphs" stroke="#80c2b3" stroke-width="0.7">º</text><rect x="18.3" y="-6.3" width="11.0" height="2.2" fill="#80c2b3"/></g>
<text transform="translate(402.0,373.9) rotate(-9.72)" font-size="26.5" font-weight="normal" fill="#48a590" text-anchor="start" textLength="101.4" lengthAdjust="spacingAndGlyphs">Canadá:</text>
<text transform="translate(509.0,355.1) rotate(-9.72)" font-size="25.0" font-weight="bold" fill="#3b9f8a" text-anchor="start" textLength="49.7" lengthAdjust="spacingAndGlyphs" stroke="#3b9f8a" stroke-width="1.2" stroke-linejoin="round">12,5</text>
<text transform="translate(406.6,392.2) rotate(-9.72)" font-size="13.5" font-weight="normal" fill="#58595b" text-anchor="start" textLength="122.4" lengthAdjust="spacingAndGlyphs">Canola · Soja · Milho</text>
<text transform="translate(409.9,410.1) rotate(-9.72)" font-size="13.5" font-weight="normal" fill="#58595b" text-anchor="start" textLength="157.7" lengthAdjust="spacingAndGlyphs">Beterraba · Alfafa · Batata</text>
<path d="M656.0,227.7 L874.7,190.1 L883.3,240.0 A12,12 0 0 1 873.5,253.8 L791.3,267.9 L792.7,349.7 L766.0,272.3 L654.8,291.4 L646.2,241.5 A12,12 0 0 1 656.0,227.7 Z" fill="#fff" fill-opacity="0.95" stroke="#8c2391" stroke-width="1.4" stroke-linejoin="miter"/>
<text transform="translate(654.4,257.4) rotate(-9.75)" font-size="26.5" font-weight="bold" fill="#bb8dc6" text-anchor="start" textLength="17.5" lengthAdjust="spacingAndGlyphs" stroke="#bb8dc6" stroke-width="0.5">9</text>
<g transform="translate(654.4,257.4) rotate(-9.75)"><text x="19.3" y="2.6" font-size="26.5" font-weight="bold" fill="#bb8dc6" textLength="11.0" lengthAdjust="spacingAndGlyphs" stroke="#bb8dc6" stroke-width="0.7">º</text><rect x="19.3" y="-6.3" width="11.0" height="2.2" fill="#bb8dc6"/></g>
<text transform="translate(692.5,250.9) rotate(-9.75)" font-size="26.5" font-weight="normal" fill="#a265ab" text-anchor="start" textLength="130.5" lengthAdjust="spacingAndGlyphs">Paquistão:</text>
<text transform="translate(827.2,227.2) rotate(-9.75)" font-size="25.0" font-weight="bold" fill="#9e5fa8" text-anchor="start" textLength="36.6" lengthAdjust="spacingAndGlyphs" stroke="#9e5fa8" stroke-width="1.2" stroke-linejoin="round">2,5</text>
<text transform="translate(696.6,269.4) rotate(-9.75)" font-size="13.5" font-weight="normal" fill="#58595b" text-anchor="start" textLength="51.2" lengthAdjust="spacingAndGlyphs">Algodão</text>
<path d="M886.4,402.0 L933.1,393.9 L936.0,335.7 L955.9,390.0 L1063.3,371.4 L1071.4,420.9 A12,12 0 0 1 1061.6,434.7 L884.7,465.3 L876.6,415.8 A12,12 0 0 1 886.4,402.0 Z" fill="#fff" fill-opacity="0.95" stroke="#8c2391" stroke-width="1.4" stroke-linejoin="miter"/>
<text transform="translate(885.6,431.9) rotate(-9.8)" font-size="26.5" font-weight="bold" fill="#bb8dc6" text-anchor="start" textLength="16.1" lengthAdjust="spacingAndGlyphs" stroke="#bb8dc6" stroke-width="0.5">7</text>
<g transform="translate(885.6,431.9) rotate(-9.80)"><text x="17.9" y="2.6" font-size="26.5" font-weight="bold" fill="#bb8dc6" textLength="11.0" lengthAdjust="spacingAndGlyphs" stroke="#bb8dc6" stroke-width="0.7">º</text><rect x="17.9" y="-6.3" width="11.0" height="2.2" fill="#bb8dc6"/></g>
<text transform="translate(920.8,425.8) rotate(-9.8)" font-size="26.5" font-weight="normal" fill="#a265ab" text-anchor="start" textLength="80.0" lengthAdjust="spacingAndGlyphs">China:</text>
<text transform="translate(1006.2,410.5) rotate(-9.8)" font-size="25.0" font-weight="bold" fill="#9e5fa8" text-anchor="start" textLength="37.0" lengthAdjust="spacingAndGlyphs" stroke="#9e5fa8" stroke-width="1.2" stroke-linejoin="round">3,2</text>
<text transform="translate(928.8,443.4) rotate(-9.8)" font-size="13.5" font-weight="normal" fill="#58595b" text-anchor="start" textLength="106" lengthAdjust="spacingAndGlyphs">Algodão · Papaya</text>
<path d="M87.3,463.4 L289.2,428.4 L292.7,448.7 L372.8,449.1 L297.3,475.9 L299.9,490.8 A12,12 0 0 1 290.1,504.6 L88.2,539.6 L77.5,477.2 A12,12 0 0 1 87.3,463.4 Z" fill="#fff" fill-opacity="0.95" stroke="#8c2391" stroke-width="1.4" stroke-linejoin="miter"/>
<text transform="translate(87.2,491.1) rotate(-9.82)" font-size="26.5" font-weight="bold" fill="#bb8dc6" text-anchor="start" textLength="13.5" lengthAdjust="spacingAndGlyphs" stroke="#bb8dc6" stroke-width="0.5">2</text>
<g transform="translate(87.2,491.1) rotate(-9.82)"><text x="15.3" y="2.6" font-size="26.5" font-weight="bold" fill="#bb8dc6" textLength="11.0" lengthAdjust="spacingAndGlyphs" stroke="#bb8dc6" stroke-width="0.7">º</text><rect x="15.3" y="-6.3" width="11.0" height="2.2" fill="#bb8dc6"/></g>
<text transform="translate(121.9,485.1) rotate(-9.82)" font-size="26.5" font-weight="normal" fill="#a265ab" text-anchor="start" textLength="78.5" lengthAdjust="spacingAndGlyphs">Brasil:</text>
<text transform="translate(205.4,470.1) rotate(-9.82)" font-size="25.0" font-weight="bold" fill="#9e5fa8" text-anchor="start" textLength="55.3" lengthAdjust="spacingAndGlyphs" stroke="#9e5fa8" stroke-width="1.2" stroke-linejoin="round">52,8</text>
<text transform="translate(127.8,503.6) rotate(-9.82)" font-size="13.5" font-weight="normal" fill="#58595b" text-anchor="start" textLength="132.2" lengthAdjust="spacingAndGlyphs">Soja · Milho · Algodão</text>
<text transform="translate(130.8,520.6) rotate(-9.82)" font-size="13.5" font-weight="normal" fill="#58595b" text-anchor="start" textLength="96.4" lengthAdjust="spacingAndGlyphs">Cana-de-açúcar</text>
<path d="M87.3,574.8 L282.3,541.6 L284.0,551.3 L372.8,497.3 L288.7,579.1 L290.5,589.6 A12,12 0 0 1 280.7,603.4 L85.7,636.6 L77.5,588.6 A12,12 0 0 1 87.3,574.8 Z" fill="#fff" fill-opacity="0.95" stroke="#0b8d76" stroke-width="1.4" stroke-linejoin="miter"/>
<text transform="translate(85.7,603.8) rotate(-9.66)" font-size="26.5" font-weight="bold" fill="#80c2b3" text-anchor="start" textLength="29.9" lengthAdjust="spacingAndGlyphs" stroke="#80c2b3" stroke-width="0.5">10</text>
<g transform="translate(85.7,603.8) rotate(-9.66)"><text x="31.7" y="2.6" font-size="26.5" font-weight="bold" fill="#80c2b3" textLength="11.0" lengthAdjust="spacingAndGlyphs" stroke="#80c2b3" stroke-width="0.7">º</text><rect x="31.7" y="-6.3" width="11.0" height="2.2" fill="#80c2b3"/></g>
<text transform="translate(136.4,595.2) rotate(-9.66)" font-size="26.5" font-weight="normal" fill="#48a590" text-anchor="start" textLength="88.9" lengthAdjust="spacingAndGlyphs">Bolívia:</text>
<text transform="translate(230.0,578.7) rotate(-9.66)" font-size="25.0" font-weight="bold" fill="#3b9f8a" text-anchor="start" textLength="35.5" lengthAdjust="spacingAndGlyphs" stroke="#3b9f8a" stroke-width="1.2" stroke-linejoin="round">1,4</text>
<text transform="translate(127.0,615.6) rotate(-9.66)" font-size="13.5" font-weight="normal" fill="#58595b" text-anchor="start" textLength="25.7" lengthAdjust="spacingAndGlyphs">Soja</text>
<path d="M444.5,448.4 L648.5,412.3 L656.4,457.6 A12,12 0 0 1 646.7,471.5 L442.7,507.6 L440.6,495.5 L391.4,517.5 L436.3,470.9 L434.8,462.3 A12,12 0 0 1 444.5,448.4 Z" fill="#fff" fill-opacity="0.95" stroke="#8c2391" stroke-width="1.4" stroke-linejoin="miter"/>
<text transform="translate(443.5,475.2) rotate(-10.04)" font-size="26.5" font-weight="bold" fill="#bb8dc6" text-anchor="start" textLength="15.1" lengthAdjust="spacingAndGlyphs" stroke="#bb8dc6" stroke-width="0.5">6</text>
<g transform="translate(443.5,475.2) rotate(-10.04)"><text x="16.9" y="2.6" font-size="26.5" font-weight="bold" fill="#bb8dc6" textLength="11.0" lengthAdjust="spacingAndGlyphs" stroke="#bb8dc6" stroke-width="0.7">º</text><rect x="16.9" y="-6.3" width="11.0" height="2.2" fill="#bb8dc6"/></g>
<text transform="translate(479.8,468.8) rotate(-10.04)" font-size="26.5" font-weight="normal" fill="#a265ab" text-anchor="start" textLength="114.2" lengthAdjust="spacingAndGlyphs">Paraguai:</text>
<text transform="translate(599.9,447.0) rotate(-10.04)" font-size="25.0" font-weight="bold" fill="#9e5fa8" text-anchor="start" textLength="36.2" lengthAdjust="spacingAndGlyphs" stroke="#9e5fa8" stroke-width="1.2" stroke-linejoin="round">4,1</text>
<text transform="translate(483.1,488.4) rotate(-10.04)" font-size="13.5" font-weight="normal" fill="#58595b" text-anchor="start" textLength="131.8" lengthAdjust="spacingAndGlyphs">Soja · Milho · Algodão</text>
<path d="M390.2,575.7 L623.8,534.5 L632.0,580.9 A12,12 0 0 1 622.3,594.8 L388.7,636.0 L385.7,618.9 L346.5,589.5 L381.0,592.2 L380.5,589.6 A12,12 0 0 1 390.2,575.7 Z" fill="#fff" fill-opacity="0.95" stroke="#0b8d76" stroke-width="1.4" stroke-linejoin="miter"/>
<text transform="translate(390.6,603.3) rotate(-10.01)" font-size="26.5" font-weight="bold" fill="#80c2b3" text-anchor="start" textLength="15.0" lengthAdjust="spacingAndGlyphs" stroke="#80c2b3" stroke-width="0.5">3</text>
<g transform="translate(390.6,603.3) rotate(-10.01)"><text x="16.8" y="2.6" font-size="26.5" font-weight="bold" fill="#80c2b3" textLength="11.0" lengthAdjust="spacingAndGlyphs" stroke="#80c2b3" stroke-width="0.7">º</text><rect x="16.8" y="-6.3" width="11.0" height="2.2" fill="#80c2b3"/></g>
<text transform="translate(426.3,597.0) rotate(-10.01)" font-size="26.5" font-weight="normal" fill="#48a590" text-anchor="start" textLength="129.0" lengthAdjust="spacingAndGlyphs">Argentina:</text>
<text transform="translate(561.4,572.7) rotate(-10.01)" font-size="25.0" font-weight="bold" fill="#3b9f8a" text-anchor="start" textLength="28.4" lengthAdjust="spacingAndGlyphs" stroke="#3b9f8a" stroke-width="1.2" stroke-linejoin="round">24</text>
<text transform="translate(430.4,614.0) rotate(-10.01)" font-size="13.5" font-weight="normal" fill="#58595b" text-anchor="start" textLength="178.3" lengthAdjust="spacingAndGlyphs">Soja · Milho · Algodão · Alfafa</text>
<path d="M656.5,599.0 L708.9,590.1 L655.3,541.3 L739.5,584.9 L906.2,556.5 L914.3,604.1 A12,12 0 0 1 904.5,617.9 L654.8,660.4 L646.7,612.8 A12,12 0 0 1 656.5,599.0 Z" fill="#fff" fill-opacity="0.95" stroke="#8c2391" stroke-width="1.4" stroke-linejoin="miter"/>
<text transform="translate(655.3,627.6) rotate(-9.66)" font-size="26.5" font-weight="bold" fill="#bb8dc6" text-anchor="start" textLength="17.5" lengthAdjust="spacingAndGlyphs" stroke="#bb8dc6" stroke-width="0.5">8</text>
<g transform="translate(655.3,627.6) rotate(-9.66)"><text x="19.3" y="2.6" font-size="26.5" font-weight="bold" fill="#bb8dc6" textLength="11.0" lengthAdjust="spacingAndGlyphs" stroke="#bb8dc6" stroke-width="0.7">º</text><rect x="19.3" y="-6.3" width="11.0" height="2.2" fill="#bb8dc6"/></g>
<text transform="translate(693.3,621.1) rotate(-9.66)" font-size="26.5" font-weight="normal" fill="#a265ab" text-anchor="start" textLength="165.4" lengthAdjust="spacingAndGlyphs">África do Sul:</text>
<text transform="translate(864.3,591.5) rotate(-9.66)" font-size="25.0" font-weight="bold" fill="#9e5fa8" text-anchor="start" textLength="33.4" lengthAdjust="spacingAndGlyphs" stroke="#9e5fa8" stroke-width="1.2" stroke-linejoin="round">2,7</text>
<text transform="translate(695.4,639.6) rotate(-9.66)" font-size="13.5" font-weight="normal" fill="#58595b" text-anchor="start" textLength="132.4" lengthAdjust="spacingAndGlyphs">Soja · Milho · Algodão</text>
<path d="M826.7,487.3 L832.1,486.3 L825.8,371.3 L857.4,482.0 L988.2,459.5 L997.7,514.4 A12,12 0 0 1 987.9,528.2 L826.4,556.0 L816.9,501.1 A12,12 0 0 1 826.7,487.3 Z" fill="#fff" fill-opacity="0.95" stroke="#0b8d76" stroke-width="1.4" stroke-linejoin="miter"/>
<text transform="translate(825.8,524.0) rotate(-9.76)" font-size="26.5" font-weight="bold" fill="#80c2b3" text-anchor="start" textLength="16.7" lengthAdjust="spacingAndGlyphs" stroke="#80c2b3" stroke-width="0.5">5</text>
<g transform="translate(825.8,524.0) rotate(-9.76)"><text x="18.5" y="2.6" font-size="26.5" font-weight="bold" fill="#80c2b3" textLength="11.0" lengthAdjust="spacingAndGlyphs" stroke="#80c2b3" stroke-width="0.7">º</text><rect x="18.5" y="-6.3" width="11.0" height="2.2" fill="#80c2b3"/></g>
<text transform="translate(861.8,517.8) rotate(-9.76)" font-size="26.5" font-weight="normal" fill="#48a590" text-anchor="start" textLength="69.5" lengthAdjust="spacingAndGlyphs">Índia:</text>
<text transform="translate(937.5,504.3) rotate(-9.76)" font-size="25.0" font-weight="bold" fill="#3b9f8a" text-anchor="start" textLength="46.0" lengthAdjust="spacingAndGlyphs" stroke="#3b9f8a" stroke-width="1.2" stroke-linejoin="round">11,9</text>
<text transform="translate(867.6,535.5) rotate(-9.76)" font-size="13.5" font-weight="normal" fill="#58595b" text-anchor="start" textLength="51.3" lengthAdjust="spacingAndGlyphs">Algodão</text>
<text x="145.9" y="74.7" font-size="32.9" font-weight="bold" fill="#0c6b3a" text-anchor="start" textLength="69.3" lengthAdjust="spacingAndGlyphs" stroke="#0c6b3a" stroke-width="1.7" stroke-linejoin="round">TOP</text>
<text x="225.1" y="74.7" font-size="32.9" font-weight="bold" fill="#0c6b3a" text-anchor="start" textLength="47.5" lengthAdjust="spacingAndGlyphs" stroke="#0c6b3a" stroke-width="1.7" stroke-linejoin="round">10:</text>
<text x="282.5" y="74.7" font-size="32.9" font-weight="bold" fill="#0c6b3a" text-anchor="start" textLength="97.0" lengthAdjust="spacingAndGlyphs" stroke="#0c6b3a" stroke-width="1.7" stroke-linejoin="round">ÁREA</text>
<text x="393.4" y="74.7" font-size="32.9" font-weight="bold" fill="#0c6b3a" text-anchor="start" textLength="176.1" lengthAdjust="spacingAndGlyphs" stroke="#0c6b3a" stroke-width="1.7" stroke-linejoin="round">PLANTADA</text>
<text x="581.4" y="74.7" font-size="32.9" font-weight="bold" fill="#0c6b3a" text-anchor="start" textLength="87.1" lengthAdjust="spacingAndGlyphs" stroke="#0c6b3a" stroke-width="1.7" stroke-linejoin="round">COM</text>
<text x="678.4" y="74.7" font-size="32.9" font-weight="bold" fill="#0c6b3a" text-anchor="start" textLength="290.2" lengthAdjust="spacingAndGlyphs" stroke="#0c6b3a" stroke-width="1.7" stroke-linejoin="round">TRANSGÊNICOS</text>
<text x="979.9" y="74.7" font-size="32.9" font-weight="bold" fill="#0c6b3a" text-anchor="start" textLength="44.9" lengthAdjust="spacingAndGlyphs" stroke="#0c6b3a" stroke-width="1.7" stroke-linejoin="round">EM</text>
<text x="1038.4" y="74.7" font-size="32.9" font-weight="bold" fill="#0c6b3a" text-anchor="start" textLength="77.6" lengthAdjust="spacingAndGlyphs" stroke="#0c6b3a" stroke-width="1.7" stroke-linejoin="round">2019</text>
<text x="490.3" y="114.5" font-size="21.5" font-weight="normal" fill="#0c6b3a" text-anchor="start" textLength="282.3" lengthAdjust="spacingAndGlyphs" stroke="#0c6b3a" stroke-width="0.3">(em milhões de hectares)</text>
<text x="115.4" y="711.6" font-size="22" font-weight="bold" fill="#0c6b3a" text-anchor="start" textLength="109.3" lengthAdjust="spacingAndGlyphs">29 países</text>
<text x="234.2" y="711.6" font-size="22" font-weight="normal" fill="#0c6b3a" text-anchor="start" textLength="96.4" lengthAdjust="spacingAndGlyphs">cultivam</text>
<text x="342.3" y="711.6" font-size="22" font-weight="normal" fill="#0c6b3a" text-anchor="start" textLength="146.2" lengthAdjust="spacingAndGlyphs">transgênicos</text>
<text x="498.6" y="711.6" font-size="22" font-weight="normal" fill="#0c6b3a" text-anchor="start" textLength="24.1" lengthAdjust="spacingAndGlyphs">no</text>
<text x="534.8" y="711.6" font-size="22" font-weight="normal" fill="#0c6b3a" text-anchor="start" textLength="79.7" lengthAdjust="spacingAndGlyphs">mundo</text>
<text x="625.3" y="711.6" font-size="22" font-weight="normal" fill="#0c6b3a" text-anchor="start" textLength="63.4" lengthAdjust="spacingAndGlyphs">numa</text>
<text x="697.5" y="711.6" font-size="22" font-weight="normal" fill="#0c6b3a" text-anchor="start" textLength="48.9" lengthAdjust="spacingAndGlyphs">área</text>
<text x="755.1" y="711.6" font-size="22" font-weight="normal" fill="#0c6b3a" text-anchor="start" textLength="52.7" lengthAdjust="spacingAndGlyphs">total</text>
<text x="816.6" y="711.6" font-size="22" font-weight="normal" fill="#0c6b3a" text-anchor="start" textLength="27.1" lengthAdjust="spacingAndGlyphs">de</text>
<text x="853.2" y="711.6" font-size="22" font-weight="bold" fill="#0c6b3a" text-anchor="start" textLength="40.5" lengthAdjust="spacingAndGlyphs">194</text>
<text x="903.3" y="711.6" font-size="22" font-weight="bold" fill="#0c6b3a" text-anchor="start" textLength="90.7" lengthAdjust="spacingAndGlyphs">milhões</text>
<text x="1006" y="711.6" font-size="22" font-weight="bold" fill="#0c6b3a" text-anchor="start" textLength="27.8" lengthAdjust="spacingAndGlyphs">de</text>
<text x="1042.2" y="711.6" font-size="22" font-weight="bold" fill="#0c6b3a" text-anchor="start" textLength="96.8" lengthAdjust="spacingAndGlyphs">hectares</text>
<text x="1141.3" y="711.6" font-size="22" font-weight="normal" fill="#0c6b3a" text-anchor="start">.</text>
<text x="1075.7" y="850.6" font-size="15.8" font-weight="bold" fill="#0c6b3a" text-anchor="start" textLength="144.2" lengthAdjust="spacingAndGlyphs">Fonte: ISAAA 2020</text>
<g><text x="547" y="838.9" font-size="26" fill="#12683a" stroke="#12683a" stroke-width="0.35" textLength="67.1" lengthAdjust="spacingAndGlyphs">Crop</text><text x="614.1" y="838.9" font-size="26" fill="#5bb531" stroke="#5bb531" stroke-width="0.35" textLength="47.9" lengthAdjust="spacingAndGlyphs">Life</text><g transform="translate(613.9,850.2) scale(1.45,1)"><text x="0" y="0" font-size="6.4" font-weight="bold" fill="#12683a" textLength="32.8" lengthAdjust="spacing" stroke="#12683a" stroke-width="0.25">BRASIL</text></g>
<path d="M658.5,806.1 C664,800 674,799.5 680.3,804.4 C688,810.5 692.6,824 692.6,837.5 C692.6,846 690,854 686.4,860.1 C687.5,852 688.3,846 687.2,839.2 C685.5,828 681,817.5 673,811 C668.5,807.5 663,806 658.5,806.1 Z" fill="#12683a"/>
<path d="M691.4,824 C692.1,816.5 696.2,809.8 701.2,807.3 C705,805.4 709.5,805.3 713.6,806.1 C711.2,808.6 709.2,811 707,813.3 C704.3,816 702,817.6 700,819.6 C697,822.6 694.4,828 692.8,835 Z" fill="#12683a"/>
<path d="M665.5,853.2 C680,844.3 701,844.3 716,853.2 C701,847 680,847 665.5,853.2 Z" fill="#5bb531"/>
<circle cx="689.9" cy="846.9" r="0.7" fill="#fff"/></g>
</svg></body></html>
